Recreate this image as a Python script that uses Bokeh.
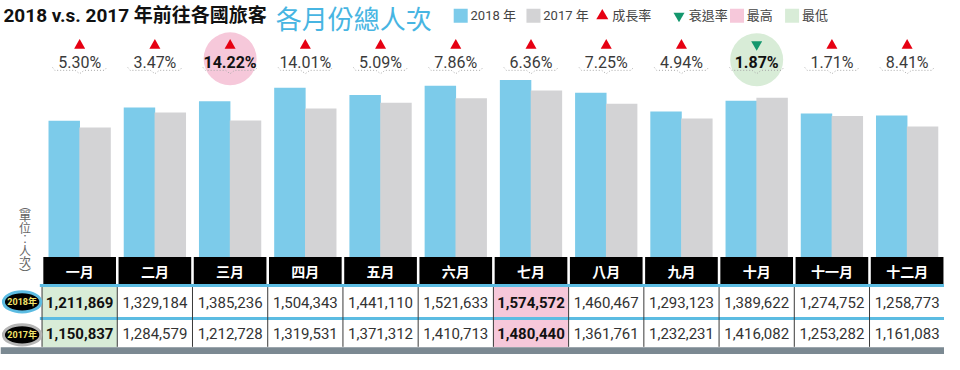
from bokeh.plotting import figure
from bokeh.models import Range1d, ColumnDataSource
from bokeh.core.properties import value
from bokeh.embed import file_html
from bokeh.resources import INLINE

# ---------------- data ----------------
months = ["一月", "二月", "三月", "四月", "五月", "六月",
          "七月", "八月", "九月", "十月", "十一月", "十二月"]
v2018 = [1211869, 1329184, 1385236, 1504343, 1441110, 1521633,
         1574572, 1460467, 1293123, 1389622, 1274752, 1258773]
v2017 = [1150837, 1284579, 1212728, 1319531, 1371312, 1410713,
         1480440, 1361761, 1232231, 1416082, 1253282, 1161083]
growth = ["5.30%", "3.47%", "14.22%", "14.01%", "5.09%", "7.86%",
          "6.36%", "7.25%", "4.94%", "1.87%", "1.71%", "8.41%"]
trend = ["up", "up", "up", "up", "up", "up", "up", "up", "up", "down", "up", "up"]
row_labels = ["2018年", "2017年"]
legend_labels = ["2018 年", "2017 年", "成長率", "衰退率", "最高", "最低"]
title_main = "2018 v.s. 2017 年前往各國旅客"
title_accent = "各月份總人次"
unit_chars = ["︵", "單", "位", "︰", "人", "次", "︶"]
best_growth = "三月"
worst_growth = "十月"
peak_month = "七月"
low_month = "一月"

# ---------------- style ----------------
BLUE = "#7ccbea"
GRAY = "#d3d3d5"
RED = "#e60012"
GREEN = "#14976d"
PINK = "#f6c8da"
LGREEN = "#d8ecd7"
ACCENT = "#47b5e2"
LINEBLUE = "#5cbce2"
NARROW = "Roboto, Noto Sans CJK TC"
CJK = "Noto Sans CJK TC"

# layout (reference pixel system 960 x 370)
C0, P = 80.5, 76.5        # first column centre, column pitch
BASE, VPP = 268, 8511     # bar baseline pixel, value per pixel

p = figure(width=944, height=354, output_backend="svg", toolbar_location=None,
           x_range=Range1d(0, 960), y_range=Range1d(370, 0),
           x_axis_type=None, y_axis_type=None, min_border=0,
           background_fill_color="white", border_fill_color="white")
p.outline_line_color = None
p.grid.visible = False
p.extra_x_ranges = {"m": Range1d(-C0 / P, (960 - C0) / P)}
p.extra_y_ranges = {"v": Range1d(-(370 - BASE) * VPP, BASE * VPP)}

idx = list(range(len(months)))

# ---------------- highlight circles ----------------
hi = [months.index(best_growth), months.index(worst_growth)]
p.scatter(x=hi, y=[61, 62], size=53, marker="circle",
          fill_color=[PINK, LGREEN], line_color=None, x_range_name="m")

# ---------------- bars ----------------
bar_src = ColumnDataSource(dict(x18=[i - 0.205 for i in idx],
                                x17=[i + 0.205 for i in idx],
                                v18=v2018, v17=v2017))
p.vbar(x="x18", width=0.418, top="v18", bottom=0, source=bar_src,
       fill_color=BLUE, line_color=None, x_range_name="m", y_range_name="v")
p.vbar(x="x17", width=0.418, top="v17", bottom=0, source=bar_src,
       fill_color=GRAY, line_color=None, x_range_name="m", y_range_name="v")

# ---------------- growth markers / labels ----------------
up = [i for i in idx if trend[i] == "up"]
dn = [i for i in idx if trend[i] == "down"]
p.scatter(x=up, y=[47] * len(up), marker="triangle", size=11,
          fill_color=RED, line_color=None, x_range_name="m")
p.scatter(x=dn, y=[46] * len(dn), marker="inverted_triangle", size=11,
          fill_color=GREEN, line_color=None, x_range_name="m")

bold_idx = hi
norm = [i for i in idx if i not in bold_idx]
p.text(x=norm, y=[65] * len(norm), text=[growth[i] for i in norm],
       text_align="center", text_baseline="middle", text_font=value(NARROW),
       text_font_size="16px", text_color="#3a3a3a", x_range_name="m")
p.text(x=bold_idx, y=[65] * len(bold_idx), text=[growth[i] for i in bold_idx],
       text_align="center", text_baseline="middle", text_font=value(NARROW),
       text_font_size="16px", text_font_style="bold", text_color="#111111",
       x_range_name="m")

bx = [[i - 0.36, i - 0.33, i - 0.06, i, i + 0.06, i + 0.33, i + 0.36] for i in idx]
by = [[70, 73, 73, 76.5, 73, 73, 70] for _ in idx]
p.multi_line(xs=bx, ys=by, line_color="#a8a8a8", line_width=1,
             line_dash="1 2", x_range_name="m")

# ---------------- title & legend ----------------
p.text(x=[3], y=[16], text=[title_main], text_baseline="middle",
       text_font=value(NARROW), text_font_size="19px", text_font_style="bold",
       text_color="#111111")
p.text(x=[280], y=[18], text=[title_accent], text_baseline="middle",
       text_font=value(CJK), text_font_size="26px", text_color=ACCENT)

leg_x = [461, 535, 605, 683, 742, 798]
leg_marker = ["square", "square", "triangle", "inverted_triangle", "square", "square"]
leg_color = [BLUE, GRAY, RED, GREEN, PINK, LGREEN]
leg_size = [14, 14, 12, 11, 14, 14]
for lx, mk, col, sz, lab in zip(leg_x, leg_marker, leg_color, leg_size, legend_labels):
    p.scatter(x=[lx + 7], y=[16], marker=mk, size=sz, fill_color=col, line_color=None)
    p.text(x=[lx + 17], y=[16], text=[lab], text_baseline="middle",
           text_font=value(NARROW), text_font_size="13px", text_color="#444444")

# ---------------- unit label ----------------
uy = [213, 225, 237, 249, 261, 273, 285]
p.text(x=[25] * len(unit_chars), y=uy, text=unit_chars, text_align="center",
       text_baseline="middle", text_font=value(CJK), text_font_size="12px",
       text_color="#666666")

# ---------------- table ----------------
hw = 0.483
p.quad(left=[i - hw for i in idx], right=[i + hw for i in idx],
       top=[268] * 12, bottom=[296.5] * 12, fill_color="black", line_color=None,
       x_range_name="m")
p.text(x=idx, y=[282.5] * 12, text=months, text_align="center",
       text_baseline="middle", text_font=value(CJK), text_font_size="14px",
       text_font_style="bold", text_color="white", x_range_name="m")

cell_fill = []
for m in months:
    if m == peak_month:
        cell_fill.append(PINK)
    elif m == low_month:
        cell_fill.append(LGREEN)
    else:
        cell_fill.append("white")
for top, bot in [(299, 331), (333.5, 362.5)]:
    p.quad(left=[i - 0.5 for i in idx], right=[i + 0.5 for i in idx],
           top=[top] * 12, bottom=[bot] * 12, fill_color=cell_fill,
           line_color=None, x_range_name="m")

# blue separators
p.segment(x0=[40, 40], y0=[298, 332.3], x1=[960, 960], y1=[298, 332.3],
          line_color=LINEBLUE, line_width=3)
# vertical cell separators
sep = [i - 0.5 for i in idx] + [11.5]
p.segment(x0=sep, y0=[299.5] * 13, x1=sep, y1=[362] * 13,
          line_color="#3a3a3a", line_width=1, x_range_name="m")
# bottom strip
p.quad(left=[0], right=[960], top=[362.5], bottom=[370], fill_color="#7b8992",
       line_color=None)

for vals, yy in [(v2018, 315.5), (v2017, 348.5)]:
    nm = [i for i in idx if months[i] not in (peak_month, low_month)]
    bd = [i for i in idx if months[i] in (peak_month, low_month)]
    p.text(x=nm, y=[yy] * len(nm), text=[f"{vals[i]:,}" for i in nm],
           text_align="center", text_baseline="middle", text_font=value(NARROW),
           text_font_size="15px", text_color="#333333", x_range_name="m")
    p.text(x=bd, y=[yy] * len(bd), text=[f"{vals[i]:,}" for i in bd],
           text_align="center", text_baseline="middle", text_font=value(NARROW),
           text_font_size="15px", text_font_style="bold", text_color="#111111",
           x_range_name="m")

# row label bubbles
p.ellipse(x=[22, 22], y=[315, 349.5], width=38, height=21,
          fill_color="black", line_color=[LINEBLUE, "#b5b5b5"], line_width=3)
p.text(x=[22, 22], y=[315, 349.5], text=row_labels, text_align="center",
       text_baseline="middle", text_font=value(NARROW), text_font_size="9px",
       text_font_style="bold", text_color="#f3e36a")

open("out.html", "w").write(file_html(p, INLINE))
